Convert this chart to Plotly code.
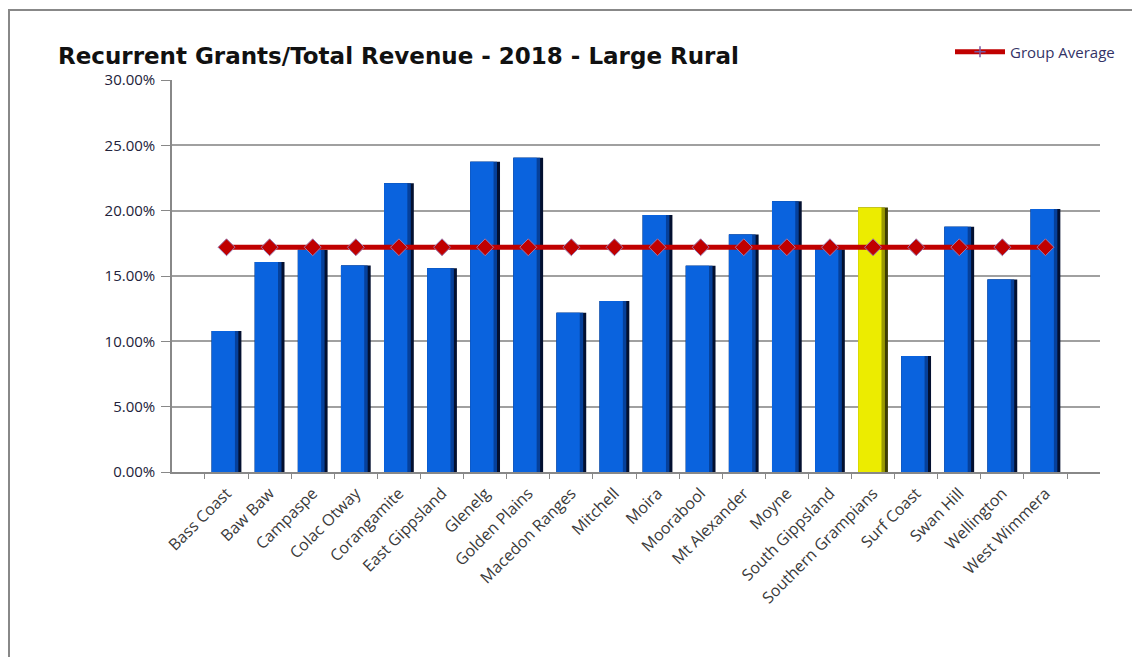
import plotly.graph_objects as go

categories = ["Bass Coast", "Baw Baw", "Campaspe", "Colac Otway", "Corangamite",
              "East Gippsland", "Glenelg", "Golden Plains", "Macedon Ranges", "Mitchell",
              "Moira", "Moorabool", "Mt Alexander", "Moyne", "South Gippsland",
              "Southern Grampians", "Surf Coast", "Swan Hill", "Wellington", "West Wimmera"]
ratios = [0.108, 0.1607, 0.170, 0.158, 0.221, 0.156, 0.2374, 0.2405, 0.1219, 0.1308,
          0.1966, 0.1579, 0.1818, 0.2073, 0.1704, 0.2025, 0.0887, 0.1877, 0.1474, 0.2012]
group_average = [0.172] * len(categories)
highlight = "Southern Grampians"
y_ticks = [0, 0.05, 0.10, 0.15, 0.20, 0.25, 0.30]

W, H = 1140, 657
OFF = 8  # page body margin
# target plot area in screen pixels
SX0, SX1, SY0, SY1 = 172, 1100, 80, 472
L, T = SX0 - OFF, SY0 - OFF
R = W - (SX1 - OFF)
B = H - (SY1 - OFF)
pw, ph = W - L - R, H - T - B

def px(x):
    return (x - OFF - L) / pw

def py(y):
    return (H - B - (y - OFF)) / ph

dark = ["#3E3E00" if c == highlight else "#031030" for c in categories]
mid = ["#9A9A00" if c == highlight else "#06409A" for c in categories]
face = ["#ECEC00" if c == highlight else "#0A63DE" for c in categories]

fig = go.Figure()
# shaded layers of each bar (cylinder-like shading towards the right edge)
for wdt, cols, hov in [(0.69, dark, "skip"), (0.62, mid, "skip"), (0.54, face, "x+y")]:
    fig.add_trace(go.Bar(
        x=categories, y=ratios, width=wdt, offset=-0.345,
        marker=dict(color=cols, line=dict(width=0)),
        showlegend=False, hoverinfo=hov))
fig.add_trace(go.Scatter(
    x=categories, y=group_average, mode="lines+markers", name="Group Average",
    showlegend=False,
    line=dict(color="#C00000", width=5),
    marker=dict(symbol="diamond", size=13, color="#C00000", line=dict(color="#9A7AB0", width=1))))
# legend entry (as in the original: thick line with a small marker)
fig.add_trace(go.Scatter(
    x=[None], y=[None], mode="lines+markers", name="Group Average",
    line=dict(color="#C00000", width=5),
    marker=dict(symbol="cross-thin", size=8, color="#7A5AA0", line=dict(color="#7A5AA0", width=1.5))))

fig.update_layout(
    width=W, height=H,
    margin=dict(l=L, r=R, t=T, b=B, autoexpand=False),
    paper_bgcolor="white", plot_bgcolor="white",
    barmode="overlay",
    font=dict(family="Open Sans, Liberation Sans, sans-serif", color="#333333"),
    title=dict(text="<b>Recurrent Grants/Total Revenue - 2018 - Large Rural</b>",
               x=(58 - OFF) / W, xanchor="left", y=1 - (56 - OFF) / H, yanchor="middle",
               font=dict(size=23, color="#111111", family="DejaVu Sans, sans-serif")),
    legend=dict(x=px(950), y=py(52), xanchor="left", yanchor="middle",
                font=dict(size=15, color="#333366"), bgcolor="rgba(0,0,0,0)",
                itemwidth=50),
    xaxis=dict(tickangle=-45, ticks="outside", tickson="boundaries", ticklen=5,
               tickcolor="#888888", showline=True, linecolor="#888888", linewidth=1.5,
               ticklabelstandoff=4,
               tickfont=dict(size=16, color="#3A3A3A"), showgrid=False),
    yaxis=dict(range=[0, 0.30], tickvals=y_ticks, tickformat=".2%", ticks="outside",
               ticklen=9, tickcolor="#888888", showline=True, linecolor="#888888", linewidth=1.5,
               ticklabelstandoff=3,
               showgrid=True, gridcolor="#A0A0A0", gridwidth=1.5,
               tickfont=dict(size=15, color="#22223A"), zeroline=False),
    shapes=[dict(type="rect", xref="paper", yref="paper",
                 x0=px(9), x1=px(1200), y0=py(700), y1=py(10),
                 line=dict(color="#888888", width=2), fillcolor="rgba(0,0,0,0)", layer="below")],
)

fig.write_html("out.html")
